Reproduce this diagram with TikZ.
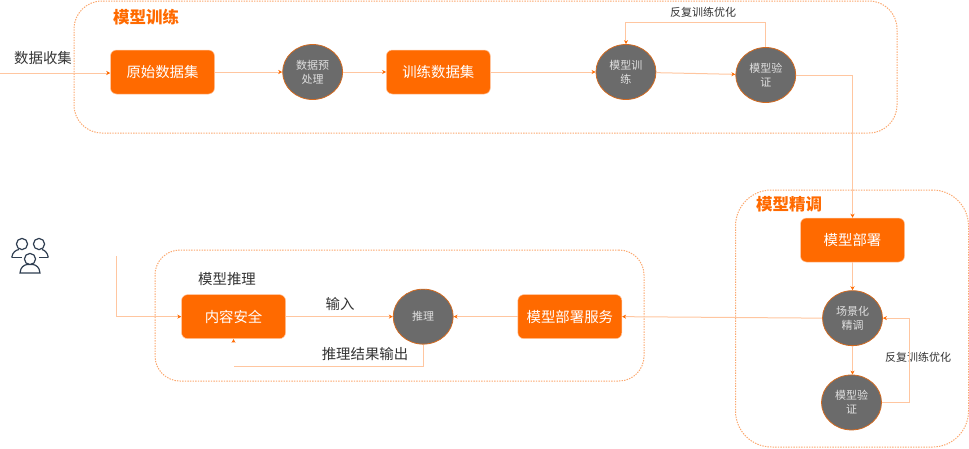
\documentclass[tikz,border=0pt]{standalone}
\usepackage{fontspec}
\setmainfont{Noto Sans CJK SC}
\usetikzlibrary{positioning, arrows.meta, shapes.geometric}
\definecolor{brand}{HTML}{FF6A00}
\definecolor{wire}{HTML}{FFC6A0}
\definecolor{rim}{HTML}{FBA86F}
\definecolor{disc}{HTML}{6B6B6B}
\definecolor{ink}{HTML}{333333}
\definecolor{slate}{HTML}{2E3D50}
\newcommand{\fs}[1]{\fontsize{#1}{18}\selectfont}

\begin{document}
\begin{tikzpicture}[
    x=1pt, y=-1pt,
    box/.style={rectangle, fill=brand, draw=wire, line width=.5pt, rounded corners=6pt,
                minimum width=104pt, minimum height=44pt, inner sep=0pt,
                text=white, font=\fs{14.4}},
    disk/.style={ellipse, fill=disc, draw=brand!70!disc, line width=.8pt,
                 minimum width=60pt, minimum height=55pt, inner sep=0pt, align=center,
                 text=white!88!black, font=\fontsize{11}{14}\selectfont},
    group/.style={rectangle, draw=rim, dash pattern=on 1.4pt off 1.2pt, line width=1pt},
    title/.style={text=brand, font=\fs{16.5}\bfseries, inner sep=0pt},
    note/.style={text=ink, font=\fs{14.4}, inner sep=0pt},
    small/.style={text=ink, font=\fs{11}, inner sep=0pt},
    wireline/.style={draw=wire, line width=1pt},
    arrow/.style={wireline, -{Stealth[length=4pt, width=4pt, color=brand]}}
]
  \useasboundingbox (0,0) rectangle (969,448);

  \node[group, rounded corners=28pt, minimum width=823pt, minimum height=132pt] (gtrain) at (485.5,67) {};
  \node[group, rounded corners=25pt, minimum width=489pt, minimum height=131pt] (ginfer) at (399.5,315.5) {};
  \node[group, rounded corners=36pt, minimum width=233pt, minimum height=257pt] (gtune) at (852,318.5) {};

  \node[title] (ttrain) at (146,17) {模型训练};
  \node[title] (ttune) at (789,204) {模型精调};
  \node[note] (tinfer) at (227,279) {模型推理};

  \node[box] (raw) at (162.5,72) {原始数据集};
  \node[disk, right=67.5pt of raw] (pre) {数据预\\处理};
  \node[box, right=43pt of pre] (tdata) {训练数据集};
  \node[disk, right=105pt of tdata] (train) {模型训\\练};
  \node[disk, right=79pt of train, yshift=-3pt] (valid) {模型验\\证};

  \node[box] (deploy) at (852.5,240) {模型部署};
  \node[disk, below=28pt of deploy] (tune) {场景化\\精调};
  \node[disk, below=28.5pt of tune, xshift=-1pt] (check) {模型验\\证};
  \node[box, left=200pt of tune, yshift=1.5pt] (serve) {模型部署服务};
  \node[disk, left=64pt of serve] (infer) {推理};
  \node[box, left=107pt of infer] (safe) {内容安全};

  \coordinate (collect) at (0,73);
  \coordinate (user) at (116,256);
  \coordinate (back) at (safe.south |- 0,366);
  \coordinate (backtip) at ([yshift=-4pt]safe.south);

  \node[note] (lcollect) at (43,58.5) {数据收集};
  \node[note] (linput) at (340,304) {输入};
  \node[note] (loutput) at (365,354) {推理结果输出};
  \node[small] (lloop) at (703,12) {反复训练优化};
  \node[small] (lloop2) at (918,357) {反复训练优化};

  \draw[arrow] (collect) -- (collect -| raw.west);
  \draw[arrow] (raw) -- (pre);
  \draw[arrow] (pre) -- (tdata);
  \draw[arrow] (tdata) -- (train);
  \draw[arrow] (train) -- (valid);
  \draw[arrow] (valid.north) -- ++(0,-25) -| (train.north);
  \draw[arrow] (valid.east) -| (deploy.north);
  \draw[arrow] (deploy) -- (tune);
  \draw[arrow] (tune.south) -- (tune.south |- check.north);
  \draw[arrow] (check.east) -- ++(28,0) |- (tune.east);
  \draw[arrow] (tune.west) -- (serve.east);
  \draw[arrow] (serve) -- (infer);
  \draw[arrow] (safe.east) -- (infer.west);
  \draw[wireline] (infer.south) |- (back);
  \draw[arrow] (backtip) -- (safe.south);
  \draw[arrow] (user) |- (safe.west);

  \begin{scope}[line width=1.2pt]
    \draw[slate] (22,244) circle (5.6);
    \draw[slate] (39,244) circle (5.6);
    \draw[slate] (11.7,257.5) .. controls (12.5,252) and (16,250) .. (19,249.5);
    \draw[slate] (11.7,257.5) -- (22,257.5);
    \draw[slate] (48.3,257.5) .. controls (47.5,252) and (44,250) .. (42,249.5);
    \draw[slate] (48.3,257.5) -- (39,257.5);
    \draw[slate, fill=white] (30,259) circle (5.6);
    \draw[slate, fill=white] (20,273) .. controls (20.5,267) and (24,265) .. (27,264.5)
      -- (33,264.5) .. controls (36,265) and (39.5,267) .. (40,273) -- cycle;
  \end{scope}
\end{tikzpicture}
\end{document}
